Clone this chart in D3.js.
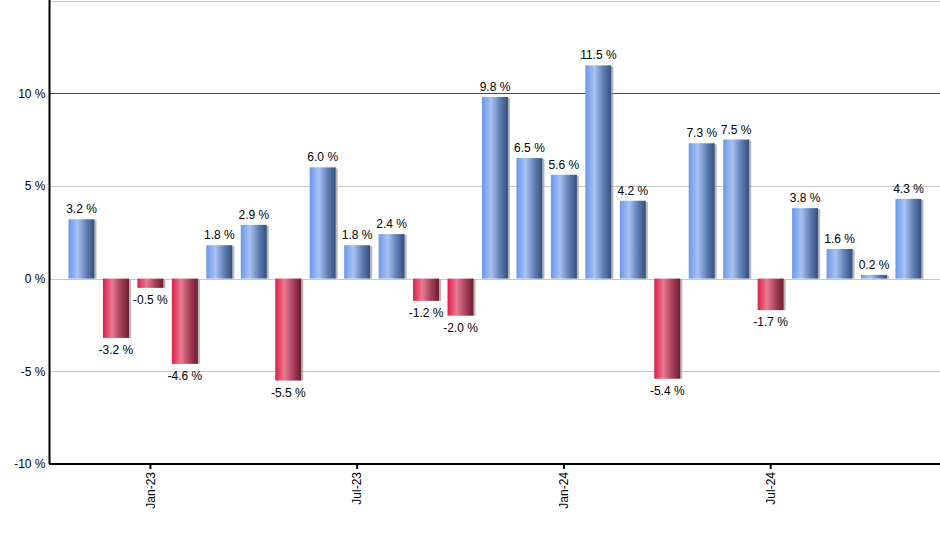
<!DOCTYPE html>
<html><head><meta charset="utf-8">
<script src="https://cdn.jsdelivr.net/npm/d3@7"></script>
<style>body{margin:0;background:#fff;}svg{display:block;font-family:"Liberation Sans",Arial,sans-serif;}</style>
</head><body><svg id="c" width="940" height="550"></svg>
<script>
const months = ["Nov-22","Dec-22","Jan-23","Feb-23","Mar-23","Apr-23","May-23","Jun-23","Jul-23","Aug-23","Sep-23","Oct-23","Nov-23","Dec-23","Jan-24","Feb-24","Mar-24","Apr-24","May-24","Jun-24","Jul-24","Aug-24","Sep-24","Oct-24","Nov-24"];
const values = [3.2,-3.2,-0.5,-4.6,1.8,2.9,-5.5,6.0,1.8,2.4,-1.2,-2.0,9.8,6.5,5.6,11.5,4.2,-5.4,7.3,7.5,-1.7,3.8,1.6,0.2,4.3];
const xTickLabels = ["Jan-23","Jul-23","Jan-24","Jul-24"];
const yTicks = [-10,-5,0,5,10];
const yGrid = [-5,0,5,15];

const svg = d3.select("#c");
const L = 50, R = 940, T = 0.5, B = 464;
const x = d3.scaleBand().domain(months).range([L, R]).paddingInner(0.245).paddingOuter(0.537);
const y = d3.scaleLinear().domain([-10, 15]).range([B, T]);

const defs = svg.append("defs");
function grad(id, stops){
  const g = defs.append("linearGradient").attr("id", id).attr("x1","0").attr("x2","1").attr("y1","0").attr("y2","0");
  stops.forEach(s => g.append("stop").attr("offset", s[0]).attr("stop-color", s[1]));
}
grad("gb", [[0,"#6b97ec"],[0.35,"#a8c2f2"],[0.7,"#5f7db2"],[1,"#344f7d"]]);
grad("gr", [[0,"#dd1f47"],[0.35,"#e97a92"],[0.7,"#a3405a"],[1,"#6e1a2c"]]);

// gridlines
svg.append("g").selectAll("line").data(yGrid).join("line")
  .attr("x1", L).attr("x2", R).attr("y1", d => Math.round(y(d))+0.5).attr("y2", d => Math.round(y(d))+0.5)
  .attr("stroke", "#c8c8c8").attr("stroke-width", 1);
svg.append("line").attr("x1", L).attr("x2", R).attr("y1", Math.round(y(10))+0.5).attr("y2", Math.round(y(10))+0.5)
  .attr("stroke", "#008000").attr("stroke-width", 1);

// shadows
svg.append("g").selectAll("rect").data(values).join("rect")
  .attr("x", (d,i) => x(months[i]) + x.bandwidth())
  .attr("y", d => Math.min(y(d), y(0)) + 1)
  .attr("width", 2)
  .attr("height", d => Math.max(0, Math.abs(y(d) - y(0)) - 1))
  .attr("fill", "#9a9a9a").attr("opacity", 0.7);

// bars
svg.append("g").selectAll("rect").data(values).join("rect")
  .attr("x", (d,i) => x(months[i]))
  .attr("y", d => Math.min(y(d), y(0)))
  .attr("width", x.bandwidth())
  .attr("height", d => Math.abs(y(d) - y(0)))
  .attr("fill", d => d >= 0 ? "url(#gb)" : "url(#gr)");

// value labels
svg.append("g").selectAll("text").data(values).join("text")
  .attr("x", (d,i) => x(months[i]) + x.bandwidth()/2)
  .attr("y", d => d >= 0 ? y(d) - 6 : y(d) + 16)
  .attr("text-anchor", "middle").attr("font-size", 12).attr("fill", "#000")
  .text(d => d.toFixed(1) + " %");

// y axis
const yAxis = d3.axisLeft(y).tickValues(yTicks).tickSize(0).tickPadding(4).tickFormat(d => d + " %");
const gy = svg.append("g").attr("transform", `translate(${L-0.5},0)`).call(yAxis);
gy.select(".domain").attr("stroke", "#000").attr("stroke-width", 2).attr("d", `M0,0V${B}`);
gy.selectAll("text").attr("font-size", 12).attr("fill", "#000").attr("font-family", "Liberation Sans, Arial, sans-serif");

// x axis
const xAxis = d3.axisBottom(x).tickValues(xTickLabels).tickSize(5).tickPadding(4);
const gx = svg.append("g").attr("transform", `translate(0,${B})`).call(xAxis);
gx.select(".domain").attr("stroke", "#000").attr("stroke-width", 2).attr("d", `M${L-1},0H${R}`);
gx.selectAll(".tick line").attr("stroke", "#000").attr("stroke-width", 2);
gx.selectAll("text").attr("font-size", 12).attr("fill", "#000").attr("font-family", "Liberation Sans, Arial, sans-serif")
  .attr("transform", "rotate(-90)").attr("text-anchor", "end").attr("dy", "0.35em").attr("x", -8).attr("y", 0);
</script></body></html>
